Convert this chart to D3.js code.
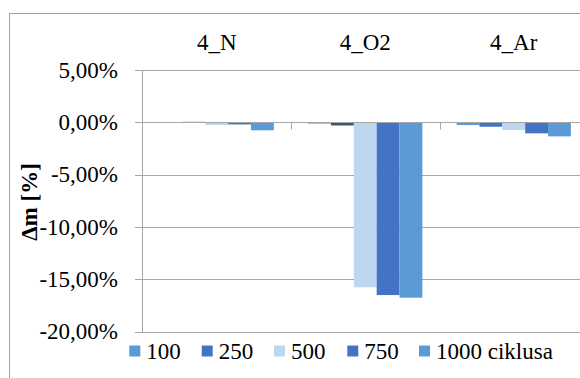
<!DOCTYPE html>
<html><head><meta charset="utf-8">
<script src="https://cdn.jsdelivr.net/npm/d3@7"></script>
<style>body{margin:0;background:#fff}svg{display:block}
text{font-family:"Liberation Serif","Times New Roman",Tinos,"DejaVu Serif",serif;}
</style>
</head><body>
<svg id="c" width="580" height="378"></svg>
<script>
const categories = ["4_N", "4_O2", "4_Ar"];
const seriesNames = ["100", "250", "500", "750", "1000 ciklusa"];
const seriesColors = ["#5B9BD5", "#4472C4", "#BDD7EE", "#4472C4", "#5B9BD5"];
const s100  = [0.00, -0.12, -0.26];
const s250  = [0.05, -0.30, -0.42];
const s500  = [-0.26, -15.76, -0.74];
const s750  = [-0.20, -16.50, -1.05];
const s1000 = [-0.76, -16.75, -1.34];
const seriesValues = [s100, s250, s500, s750, s1000];
const yTicks = [5, 0, -5, -10, -15, -20];
const yTitle = "Δm [%]";
// single point with a different fill in the original
const pointColorOverrides = [{cat: "4_O2", series: "250", color: "#44546A"}];

const svg = d3.select("#c");
const L = 142.5, T = 70, B = 331.7, bandW = 148.5;

// chart frame
svg.append("rect").attr("x", 9.5).attr("y", 13.5).attr("width", 600).attr("height", 400)
  .attr("fill", "none").attr("stroke", "#a0a0a0").attr("stroke-width", 1);

const x0 = d3.scaleBand().domain(categories).range([L, L + bandW * categories.length]);
const gap = x0.bandwidth() * 1.5 / 6.5 / 2;
const x1 = d3.scaleBand().domain(seriesNames).range([gap, x0.bandwidth() - gap]);
const y = d3.scaleLinear().domain([-20, 5]).range([B, T]);

// gridlines
svg.append("g").selectAll("line").data(yTicks).join("line")
  .attr("x1", 135).attr("x2", 600)
  .attr("y1", d => Math.round(y(d)) + 0.5).attr("y2", d => Math.round(y(d)) + 0.5)
  .attr("stroke", "#a6a6a6").attr("stroke-width", 1);

// bars
const data = [];
seriesNames.forEach((s, si) => categories.forEach((c, ci) => {
  const ov = pointColorOverrides.find(o => o.cat === c && o.series === s);
  data.push({c, s, v: seriesValues[si][ci], color: ov ? ov.color : seriesColors[si]});
}));
svg.append("g").selectAll("rect").data(data).join("rect")
  .attr("x", d => x0(d.c) + x1(d.s))
  .attr("width", x1.bandwidth())
  .attr("y", d => Math.min(y(d.v), y(0)))
  .attr("height", d => Math.abs(y(d.v) - y(0)))
  .attr("fill", d => d.color);

// zero axis line with category ticks
const y0 = Math.round(y(0)) + 0.5;
svg.append("line").attr("x1", L).attr("x2", 600).attr("y1", y0).attr("y2", y0)
  .attr("stroke", "#a6a6a6");
svg.append("g").selectAll("line").data(categories.slice(1)).join("line")
  .attr("x1", d => Math.round(x0(d)) + 0.5).attr("x2", d => Math.round(x0(d)) + 0.5)
  .attr("y1", y0).attr("y2", y0 + 7).attr("stroke", "#a6a6a6");

// y axis
svg.append("line").attr("x1", L).attr("x2", L).attr("y1", T).attr("y2", B + 0.5)
  .attr("stroke", "#a6a6a6");
const fmt = d => d3.format(".2f")(d).replace("−", "-").replace(".", ",") + "%";
svg.append("g").selectAll("text").data(yTicks).join("text")
  .attr("x", 118).attr("y", d => y(d) + 7.5).attr("text-anchor", "end")
  .attr("font-size", 23).attr("fill", "#000")
  .text(fmt);

// axis title
svg.append("text").attr("transform", "translate(37,202) rotate(-90)")
  .attr("text-anchor", "middle").attr("font-weight", "bold")
  .attr("font-size", 23).text(yTitle);

// category labels on top
svg.append("g").selectAll("text").data(categories).join("text")
  .attr("x", d => x0(d) + x0.bandwidth() / 2).attr("y", 50).attr("text-anchor", "middle")
  .attr("font-size", 23).text(d => d);

// legend
const lx = [129.3, 201.7, 274, 347.3, 419];
const lg = svg.append("g").selectAll("g").data(seriesNames).join("g")
  .attr("transform", (d, i) => `translate(${lx[i]},0)`);
lg.append("rect").attr("x", 0).attr("y", 345.5).attr("width", 11).attr("height", 11)
  .attr("fill", (d, i) => seriesColors[i]);
lg.append("text").attr("x", 17).attr("y", 359)
  .attr("font-size", 23).text(d => d);
</script>
</body></html>
